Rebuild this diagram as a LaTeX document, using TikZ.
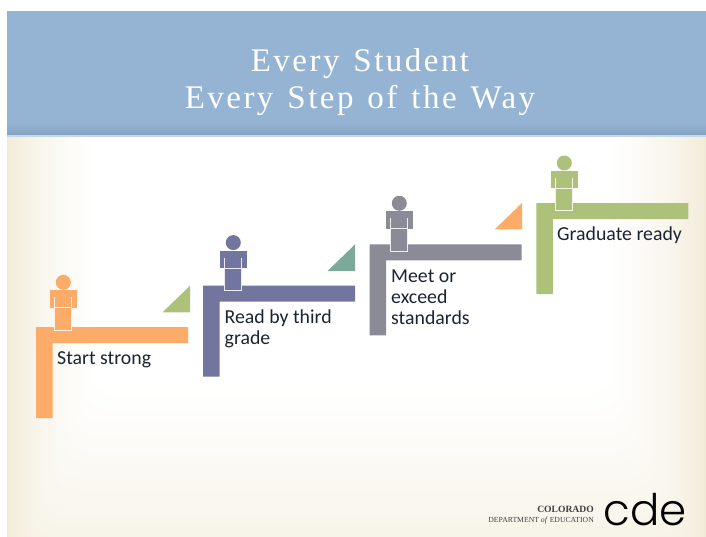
\documentclass[tikz,border=0pt]{standalone}
\usepackage{fontspec}
\setmainfont{Carlito}
\newfontfamily\titlefont[LetterSpace=7.5,WordSpace=1.3]{Liberation Serif}
\newfontfamily\logofont{Liberation Serif}
\newfontfamily\cdefont[UprightFont=* Light]{Poppins}
\definecolor{cOrange}{HTML}{FCAB68}
\definecolor{cGreen}{HTML}{ADC17A}
\definecolor{cPurple}{HTML}{72759D}
\definecolor{cGrey}{HTML}{8B8B97}
\definecolor{cTeal}{HTML}{7DA99A}
\definecolor{cBlue}{HTML}{95B4D3}
\definecolor{cBlueDark}{HTML}{86A2C2}
\definecolor{cCream}{HTML}{F1EAD6}
\definecolor{cLabel}{HTML}{1C2433}
\tikzset{
  stepbar/.style={fill=#1,draw=none},
  steplabel/.style={anchor=north west,inner sep=0pt,align=left,text=cLabel,
    font=\fontsize{19.8}{21.2}\selectfont},
  titletext/.style={text=white,anchor=base,inner sep=0pt,font=\titlefont\fontsize{33}{33}\selectfont},
  logotext/.style={anchor=base east,inner sep=0pt,text=black!75},
}
% bar-left, bar-top, colour
\newcommand\stairbar[3]{%
  \fill[stepbar=#3] (#1,#2) -- ++(152,0) -- ++(0,16) -- ++(-135.5,0) -- ++(0,75) -- ++(-16.5,0) -- cycle;}
% head-x, head-y, colour
\newcommand\figperson[3]{%
  \fill[#3] (#1,#2) circle (7.5);
  \fill[#3] (#1-13.5,#2+8) rectangle (#1+13.5,#2+25.5);
  \fill[#3,draw=white!85!#3,line width=1pt] (#1-8.5,#2+25.5) rectangle (#1+8.5,#2+47.7);
  \draw[white!85!#3,line width=1pt] (#1-8.5,#2+15) -- (#1-8.5,#2+25.5) (#1+8.5,#2+15) -- (#1+8.5,#2+25.5);}
% right-x, bottom-y, colour
\newcommand\figwedge[3]{%
  \fill[#3] (#1,#2) -- (#1,#2-26.5) -- (#1-27.5,#2) -- cycle;}
\begin{document}
\begin{tikzpicture}[x=1pt,y=-1pt]
\useasboundingbox (0,0) rectangle (706,537);
\fill[white] (0,0) rectangle (706,537);
% background
\begin{scope}
\clip (7,136) rectangle (706,537);
\fill[cCream] (7,136) rectangle (706,537);
\foreach \i in {1,...,40}{
  \pgfmathsetmacro\t{\i/40}
  \pgfmathsetmacro\mixv{100*\t^0.65}
  \pgfmathsetmacro\xa{7+85*\t}
  \pgfmathsetmacro\xb{706-95*\t}
  \pgfmathsetmacro\yb{600-210*\t}
  \fill[white!\mixv!cCream,rounded corners=25pt] (\xa,60) rectangle (\xb,\yb);
}
\end{scope}
% title band
\fill[cBlue] (7,11) rectangle (706,136);
\shade[bottom color=cBlueDark,top color=cBlue] (7,122) rectangle (706,135);
\fill[cBlue!55!white] (7,135) rectangle (706,137);
\node[titletext] (titleA) at (360,71.5) {Every Student};
\node[titletext] (titleB) at (360,108.5) {Every Step of the Way};
% steps
\stairbar{36}{327}{cOrange}
\stairbar{203}{285.7}{cPurple}
\stairbar{369.7}{244.4}{cGrey}
\stairbar{536.4}{203.2}{cGreen}
\figperson{63.3}{282.3}{cOrange}
\figperson{233.3}{242.6}{cPurple}
\figperson{399.3}{203.3}{cGrey}
\figperson{564.3}{163}{cGreen}
\figwedge{190}{312.3}{cGreen}
\figwedge{355}{271}{cTeal}
\figwedge{522}{229.5}{cOrange}
% labels
\node[steplabel] (lblA) at (57,351.5) {Start strong};
\node[steplabel] (lblB) at (224.5,309.5) {Read by third\\grade};
\node[steplabel] (lblC) at (391,269.5) {Meet or\\exceed\\standards};
\node[steplabel] (lblD) at (557,227) {Graduate ready};
% logo
\node[logotext,font=\logofont\bfseries\fontsize{9.6}{10}\selectfont] (logoA) at (594,512) {COLORADO};
\node[logotext,font=\logofont\fontsize{7.7}{8}\selectfont] (logoB) at (594,522) {DEPARTMENT \textit{of} EDUCATION};
\node[anchor=base,inner sep=0pt,text=black,font=\cdefont\fontsize{43.5}{43.5}\selectfont] (logoC) at (645,525.5) {cde};
\end{tikzpicture}
\end{document}
